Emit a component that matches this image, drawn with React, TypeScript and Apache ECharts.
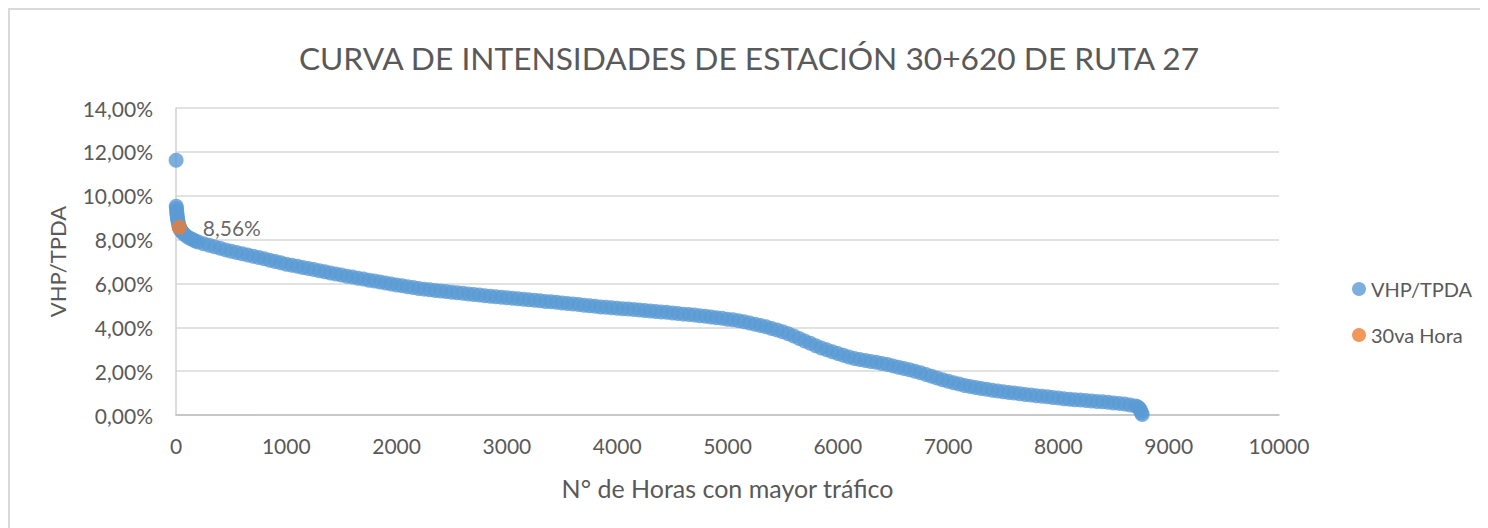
import React, { useEffect, useRef } from "react";
import * as echarts from "echarts";

const titleText = "CURVA DE INTENSIDADES DE ESTACIÓN 30+620 DE RUTA 27";
const xAxisName = "N° de Horas con mayor tráfico";
const yAxisName = "VHP/TPDA";
const seriesNames = ["VHP/TPDA", "30va Hora"];

// hours (x) and VHP/TPDA in % (y)
const hours = [
  1, 2, 4, 6, 8, 10, 13, 16, 20, 25, 30, 35, 40, 50, 60, 75, 100, 125, 150, 175, 200,
  250, 300, 350, 400, 450, 500, 550, 600, 650, 700, 750, 800, 850, 900, 950, 1000,
  1050, 1100, 1150, 1200, 1250, 1300, 1350, 1400, 1450, 1500, 1550, 1600, 1650, 1700,
  1750, 1800, 1850, 1900, 1950, 2000, 2050, 2100, 2150, 2200, 2250, 2300, 2350, 2400,
  2450, 2500, 2550, 2600, 2650, 2700, 2750, 2800, 2850, 2900, 2950, 3000, 3050, 3100,
  3150, 3200, 3250, 3300, 3350, 3400, 3450, 3500, 3550, 3600, 3650, 3700, 3750, 3800,
  3850, 3900, 3950, 4000, 4050, 4100, 4150, 4200, 4250, 4300, 4350, 4400, 4450, 4500,
  4550, 4600, 4650, 4700, 4750, 4800, 4850, 4900, 4950, 5000, 5050, 5100, 5150, 5200,
  5250, 5300, 5350, 5400, 5450, 5500, 5550, 5600, 5650, 5700, 5750, 5800, 5850, 5900,
  5950, 6000, 6050, 6100, 6150, 6200, 6250, 6300, 6350, 6400, 6450, 6500, 6550, 6600,
  6650, 6700, 6750, 6800, 6850, 6900, 6950, 7000, 7050, 7100, 7150, 7200, 7250, 7300,
  7350, 7400, 7450, 7500, 7550, 7600, 7650, 7700, 7750, 7800, 7850, 7900, 7950, 8000,
  8050, 8100, 8150, 8200, 8250, 8300, 8350, 8400, 8450, 8500, 8550, 8600, 8650, 8700,
  8720, 8735, 8745, 8752, 8760,
];
const vhpTpda = [
  11.62, 9.52, 9.42, 9.3, 9.2, 9.1, 9.0, 8.9, 8.78, 8.66, 8.56, 8.5, 8.45, 8.38, 8.32, 8.24, 8.14, 8.06, 8.0, 7.94, 7.89,
  7.81, 7.74, 7.67, 7.6, 7.53, 7.47, 7.41, 7.35, 7.3, 7.24, 7.18, 7.12, 7.06, 7.0, 6.94, 6.88,
  6.83, 6.78, 6.73, 6.68, 6.63, 6.58, 6.53, 6.48, 6.43, 6.38, 6.33, 6.29, 6.24, 6.2,
  6.15, 6.11, 6.06, 6.02, 5.97, 5.93, 5.89, 5.85, 5.81, 5.77, 5.74, 5.71, 5.68, 5.65,
  5.63, 5.6, 5.58, 5.55, 5.52, 5.5, 5.47, 5.44, 5.42, 5.39, 5.37, 5.35, 5.32, 5.3,
  5.28, 5.25, 5.23, 5.21, 5.18, 5.16, 5.14, 5.11, 5.09, 5.06, 5.04, 5.01, 4.98, 4.96,
  4.93, 4.91, 4.89, 4.87, 4.85, 4.83, 4.81, 4.79, 4.77, 4.74, 4.72, 4.7, 4.68, 4.65,
  4.63, 4.6, 4.58, 4.56, 4.53, 4.5, 4.47, 4.44, 4.41, 4.37, 4.34, 4.3, 4.25, 4.2,
  4.14, 4.08, 4.02, 3.95, 3.88, 3.8, 3.71, 3.6, 3.49, 3.38, 3.27, 3.16, 3.06, 2.97,
  2.88, 2.8, 2.72, 2.64, 2.58, 2.53, 2.48, 2.44, 2.4, 2.35, 2.3, 2.24, 2.18, 2.12,
  2.06, 2.0, 1.93, 1.85, 1.77, 1.69, 1.61, 1.54, 1.47, 1.41, 1.35, 1.3, 1.25, 1.21,
  1.17, 1.13, 1.09, 1.06, 1.03, 1.0, 0.97, 0.94, 0.91, 0.88, 0.86, 0.83, 0.8, 0.77,
  0.74, 0.72, 0.7, 0.68, 0.66, 0.64, 0.62, 0.6, 0.58, 0.55, 0.53, 0.5, 0.46, 0.41,
  0.37, 0.3, 0.2, 0.1, 0.02,
];
const hour30 = [30];
const value30 = [8.56];

const xMin = 0;
const xMax = 10000;
const xInterval = 1000;
const yMin = 0;
const yMax = 14;
const yInterval = 2;

const FONT = "Lato";
const GREY = "#595959";

const fmtPct = (v: number) => v.toFixed(2).replace(".", ",") + "%";

export default function App() {
  const ref = useRef<HTMLDivElement>(null);
  useEffect(() => {
    if (!ref.current) return;
    const chart = echarts.init(ref.current, undefined, { renderer: "svg" });
    const mainData = hours.map((h, i) => [h, vhpTpda[i]]);
    const hourData = hour30.map((h, i) => [h, value30[i]]);
    chart.setOption({
      animation: false,
      backgroundColor: "#ffffff",
      title: {
        text: titleText,
        left: "center",
        top: 27,
        textStyle: { fontFamily: FONT, fontSize: 31.7, fontWeight: "normal", color: GREY },
      },
      legend: {
        orient: "vertical",
        left: 1337,
        top: 264,
        itemGap: 26,
        itemWidth: 14,
        itemHeight: 14,
        icon: "circle",
        data: seriesNames,
        textStyle: { fontFamily: FONT, fontSize: 20, color: GREY, lineHeight: 20 },
      },
      grid: { left: 166, right: 209, top: 98, bottom: 113 },
      xAxis: {
        type: "value",
        min: xMin,
        max: xMax,
        interval: xInterval,
        name: xAxisName,
        nameLocation: "middle",
        nameGap: 60,
        nameTextStyle: { fontFamily: FONT, fontSize: 25, color: GREY },
        axisLine: { show: true, onZero: false, lineStyle: { color: "#bfbfbf", width: 1.5 } },
        axisTick: { show: false },
        splitLine: { show: false },
        axisLabel: {
          fontFamily: FONT,
          fontSize: 21,
          color: GREY,
          margin: 20,
          formatter: (v: number) => String(v),
        },
      },
      yAxis: {
        type: "value",
        min: yMin,
        max: yMax,
        interval: yInterval,
        name: yAxisName,
        nameLocation: "middle",
        nameGap: 108,
        nameTextStyle: { fontFamily: FONT, fontSize: 22, color: GREY },
        axisLine: { show: true, lineStyle: { color: "#d0d0d0", width: 1.5 } },
        axisTick: { show: false },
        splitLine: { show: true, lineStyle: { color: "#d9d9d9", width: 1.5 } },
        axisLabel: { fontFamily: FONT, fontSize: 21, color: GREY, margin: 23, formatter: fmtPct },
      },
      series: [
        {
          name: seriesNames[0],
          type: "scatter",
          symbol: "circle",
          symbolSize: 15,
          itemStyle: { color: "#5B9BD5" },
          data: mainData,
        },
        {
          name: seriesNames[1],
          type: "scatter",
          symbol: "circle",
          symbolSize: 15,
          itemStyle: { color: "#ED7D31" },
          label: {
            show: true,
            position: "right",
            distance: 16,
            fontFamily: FONT,
            fontSize: 21,
            color: "#404040",
            formatter: (p: any) => fmtPct(p.value[1]),
          },
          data: hourData,
        },
      ],
    });
    return () => chart.dispose();
  }, []);
  return (
    <div
      style={{
        width: 1480,
        height: 520,
        borderTop: "2px solid #d9d9d9",
        borderLeft: "2px solid #d9d9d9",
        boxSizing: "border-box",
        background: "#fff",
      }}
    >
      <div ref={ref} style={{ width: 1478, height: 518 }} />
    </div>
  );
}
